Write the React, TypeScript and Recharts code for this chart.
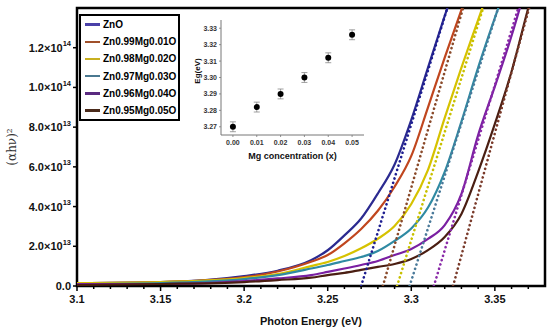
import React from 'react';
import { LineChart, Line, XAxis, YAxis, ReferenceArea, ComposedChart, Scatter, ErrorBar } from 'recharts';

// photon energy grid (eV)
const energy = [3.10, 3.15, 3.20, 3.22, 3.24, 3.25, 3.26, 3.27, 3.28, 3.29, 3.30, 3.31, 3.32, 3.33, 3.34, 3.35, 3.36, 3.37, 3.38];

// (αhν)², in units of 1e13
const zno = [0.15, 0.20, 0.50, 0.77, 1.30, 1.80, 2.55, 3.40, 4.66, 6.12, 8.37, 11.0, 13.6, 16.1, null, null, null, null, null];
const mg01 = [0.15, 0.20, 0.45, 0.73, 1.22, 1.56, 2.15, 2.87, 3.79, 5.00, 6.55, 9.00, 11.5, 13.9, 16.2, null, null, null, null];
const mg02 = [0.15, 0.20, 0.40, 0.60, 1.00, 1.21, 1.51, 1.90, 2.38, 3.02, 4.13, 5.85, 8.47, 11.0, 13.4, 15.8, null, null, null];
const mg03 = [0.10, 0.15, 0.35, 0.55, 0.88, 1.06, 1.26, 1.46, 1.76, 2.27, 2.90, 3.95, 5.75, 8.28, 11.0, 13.5, 15.9, null, null];
const mg04 = [0.10, 0.10, 0.25, 0.38, 0.55, 0.71, 0.88, 1.06, 1.26, 1.56, 1.86, 2.37, 3.07, 4.64, 7.60, 10.05, 12.6, 15.5, null];
const mg05 = [0.05, 0.10, 0.20, 0.30, 0.42, 0.55, 0.66, 0.81, 0.96, 1.11, 1.36, 1.81, 2.47, 3.63, 5.75, 8.16, 10.8, 14.0, 17.0];

const seriesNames = ['ZnO', 'Zn0.99Mg0.01O', 'Zn0.98Mg0.02O', 'Zn0.97Mg0.03O', 'Zn0.96Mg0.04O', 'Zn0.95Mg0.05O'];
const lineColors = ['#2b2a90', '#c0461e', '#d6c200', '#2f8aa3', '#7a1fa2', '#4a1e12'];
const legendColors = ['#4a40a8', '#a0502a', '#c8b020', '#4a7890', '#5a2a80', '#4a2a1a'];
const fitColors = ['#1e1e90', '#8a4a2a', '#c8c000', '#4a7a9a', '#8a2aa8', '#7a3a2a'];

// Tauc linear fits: x-intercept and energy where the fit reaches 1.4e14
const fitStart = [3.270, 3.283, 3.2915, 3.299, 3.3135, 3.325];
const fitEnd = [3.3216, 3.331, 3.343, 3.352, 3.364, 3.3705];

const xTicks = [3.10, 3.11, 3.12, 3.13, 3.14, 3.15, 3.16, 3.17, 3.18, 3.19, 3.20, 3.21, 3.22, 3.23, 3.24, 3.25, 3.26, 3.27, 3.28, 3.29, 3.30, 3.31, 3.32, 3.33, 3.34, 3.35, 3.36, 3.37];
const xMajor = [3.1, 3.15, 3.2, 3.25, 3.3, 3.35];
const yTicks = [0, 2e13, 4e13, 6e13, 8e13, 1e14, 1.2e14];

// inset: band gap vs Mg content
const mgConc = [0, 0.01, 0.02, 0.03, 0.04, 0.05];
const bandGap = [3.270, 3.282, 3.290, 3.300, 3.312, 3.326];
const bandGapErr = [0.003, 0.003, 0.003, 0.003, 0.003, 0.003];
const insetXTicks = [0, 0.01, 0.02, 0.03, 0.04, 0.05];
const insetYTicks = [3.27, 3.28, 3.29, 3.30, 3.31, 3.32, 3.33];

const curves = [zno, mg01, mg02, mg03, mg04, mg05];
const rows = energy.map((e, i) => {
  const row: any = { e };
  curves.forEach((c, k) => {
    const v = c[i];
    row['s' + k] = v == null ? null : v * 1e13;
  });
  return row;
});
const fits = fitStart.map((s, i) => [
  { e: s, f: 0 },
  { e: fitEnd[i], f: 1.4e14 },
]);

const FONT = '"Liberation Sans", Arial, sans-serif';

const XTick = (props: any) => {
  const { x, y, payload } = props;
  const v = payload.value;
  const major = xMajor.some((m) => Math.abs(m - v) < 1e-6);
  return (
    <g>
      <line x1={x} x2={x} y1={y} y2={y + (major ? 5 : 3)} stroke="#000" strokeWidth={1.5} />
      {major && (
        <text x={x} y={y + 13} textAnchor="middle" dominantBaseline="central" fontSize={11} fontWeight="bold" fontFamily={FONT} fill="#111">
          {String(Number(v.toFixed(2)))}
        </text>
      )}
    </g>
  );
};

const YTick = (props: any) => {
  const { x, y, payload } = props;
  const v = payload.value;
  let label: React.ReactNode = '0.0';
  if (v > 0) {
    const exp = Math.floor(Math.log10(v));
    const mant = (v / Math.pow(10, exp)).toFixed(1);
    label = (
      <>
        {mant}×10<tspan fontSize={7.5} dy={-4.5}>{exp}</tspan>
      </>
    );
  }
  return (
    <g>
      <line x1={x} x2={x - 4} y1={y} y2={y} stroke="#000" strokeWidth={1.5} />
      <text x={x - 6} y={y} textAnchor="end" dominantBaseline="central" fontSize={11} fontWeight="bold" fontFamily={FONT} fill="#111">
        {label}
      </text>
    </g>
  );
};

const YTitle = () => (
  <text x={12} y={147} transform="rotate(-90 12 147)" textAnchor="middle" dominantBaseline="central" fontSize={12} fontFamily='"DejaVu Serif", "Liberation Serif", serif' fill="#333">
    (αhν)²
  </text>
);

// inset ticks: (x, y) is the axis position because tickSize/tickMargin are 0
const InsetXTick = (props: any) => {
  const { x, y, payload } = props;
  return (
    <g>
      <line x1={x} x2={x} y1={y} y2={y + 2} stroke="#777" strokeWidth={0.8} />
      <text x={x} y={y + 7} textAnchor="middle" dominantBaseline="central" fontSize={7} fontWeight="bold" fontFamily={FONT} fill="#333">
        {payload.value.toFixed(2)}
      </text>
    </g>
  );
};

const InsetYTick = (props: any) => {
  const { x, y, payload } = props;
  return (
    <g>
      <line x1={x} x2={x - 2} y1={y} y2={y} stroke="#777" strokeWidth={0.8} />
      <text x={x - 4} y={y} textAnchor="end" dominantBaseline="central" fontSize={7} fontWeight="bold" fontFamily={FONT} fill="#333">
        {payload.value.toFixed(2)}
      </text>
    </g>
  );
};

const Dot = (props: any) => <circle cx={props.cx} cy={props.cy} r={3} fill="#000" />;

const Inset = () => {
  const data = mgConc.map((x, i) => ({ x, y: bandGap[i], err: bandGapErr[i] }));
  return (
    <ComposedChart width={200} height={160} data={data} margin={{ top: 10, right: 16, bottom: 0, left: 0 }} accessibilityLayer={false}>
      <XAxis
        type="number"
        dataKey="x"
        domain={[-0.005, 0.055]}
        ticks={insetXTicks}
        interval={0}
        height={35}
        tickSize={0}
        tickMargin={0}
        tickLine={false}
        axisLine={{ stroke: '#777', strokeWidth: 1 }}
        tick={(p: any) => <InsetXTick {...p} />}
        label={{ value: 'Mg concentration (x)', position: 'insideBottom', offset: 11, fontSize: 9, fontWeight: 'bold', fill: '#111', fontFamily: FONT }}
      />
      <YAxis
        type="number"
        dataKey="y"
        domain={[3.265, 3.335]}
        ticks={insetYTicks}
        interval={0}
        width={41}
        tickSize={0}
        tickMargin={0}
        tickLine={false}
        axisLine={{ stroke: '#777', strokeWidth: 1 }}
        tick={(p: any) => <InsetYTick {...p} />}
        label={{
          content: () => (
            <text x={17} y={61} transform="rotate(-90 17 61)" textAnchor="middle" dominantBaseline="central" fontSize={8} fontWeight="bold" fontFamily={FONT} fill="#111">
              Eg(eV)
            </text>
          ),
        }}
      />
      <Scatter dataKey="y" shape={Dot} isAnimationActive={false}>
        <ErrorBar dataKey="err" direction="y" width={3} stroke="#888" strokeWidth={0.8} />
      </Scatter>
    </ComposedChart>
  );
};

const LegendBox = () => (
  <div
    style={{
      position: 'absolute',
      left: 79,
      top: 14,
      width: 101,
      boxSizing: 'border-box',
      border: '2px solid #000',
      background: '#fff',
      fontFamily: FONT,
      fontWeight: 'bold',
      fontSize: 10,
      color: '#000',
    }}
  >
    {seriesNames.map((n, i) => (
      <div key={n} style={{ height: 17.2, display: 'flex', alignItems: 'center' }}>
        <div style={{ width: 15, height: 2.5, background: legendColors[i], marginLeft: 4, marginRight: 3 }} />
        <span style={{ whiteSpace: 'nowrap' }}>{n}</span>
      </div>
    ))}
  </div>
);

export default function App() {
  return (
    <div style={{ position: 'absolute', left: 0, top: 0, width: 550, height: 331, background: '#fff' }}>
      <LineChart width={550} height={331} data={rows} margin={{ top: 8, right: 5, bottom: 0, left: 0 }} accessibilityLayer={false}>
        <XAxis
          dataKey="e"
          type="number"
          domain={[3.1, 3.38]}
          allowDataOverflow
          ticks={xTicks}
          interval={0}
          tickSize={0}
          tickMargin={0}
          tickLine={false}
          axisLine={false}
          height={45}
          tick={(p: any) => <XTick {...p} />}
          label={{ value: 'Photon Energy (eV)', position: 'insideBottom', offset: 6, fontSize: 11, fontWeight: 'bold', fill: '#111', fontFamily: FONT }}
        />
        <YAxis
          type="number"
          domain={[0, 1.4e14]}
          allowDataOverflow
          ticks={yTicks}
          interval={0}
          tickSize={0}
          tickMargin={0}
          tickLine={false}
          axisLine={false}
          width={77}
          tick={(p: any) => <YTick {...p} />}
          label={{ content: () => <YTitle /> }}
        />
        {seriesNames.map((n, i) => (
          <Line
            key={n}
            dataKey={'s' + i}
            name={n}
            type="monotone"
            stroke={lineColors[i]}
            strokeWidth={2.2}
            dot={false}
            isAnimationActive={false}
          />
        ))}
        {fits.map((d, i) => (
          <Line
            key={'fit' + i}
            data={d}
            dataKey="f"
            type="linear"
            stroke={fitColors[i]}
            strokeWidth={2.6}
            strokeDasharray="0.1 4.4"
            strokeLinecap="round"
            dot={false}
            legendType="none"
            isAnimationActive={false}
          />
        ))}
        <ReferenceArea x1={3.1} x2={3.38} y1={0} y2={1.4e14} fill="none" stroke="#000" strokeWidth={2.5} ifOverflow="visible" />
      </LineChart>
      <div style={{ position: 'absolute', left: 180, top: 10, width: 200, height: 160, background: '#fff' }}>
        <Inset />
      </div>
      <LegendBox />
    </div>
  );
}
